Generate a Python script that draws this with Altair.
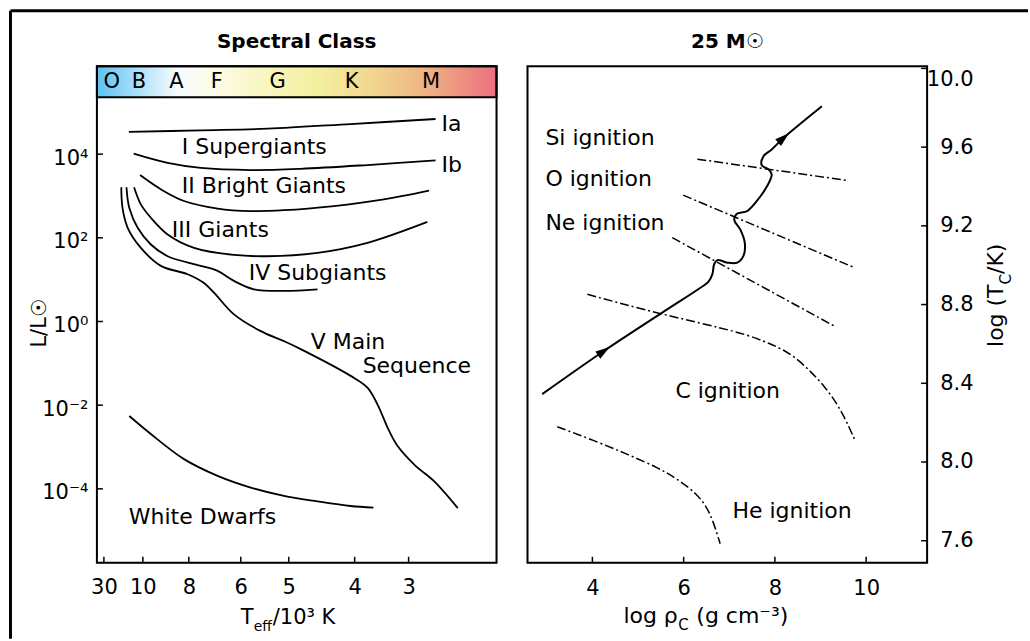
import altair as alt
import pandas as pd

FONT = "DejaVu Sans"

# ---------------- left panel: HR diagram ----------------
# horizontal position runs 0..100 across the panel (spectral sequence, hot -> cool)
teff_tick_pos = [1.75, 11.5, 23, 36, 48, 64.5, 78]
teff_tick_lab = ["30", "10", "8", "6", "5", "4", "3"]
lum_tick_pos = [-4, -2, 0, 2, 4]
lum_tick_lab = ["10⁻⁴", "10⁻²", "10⁰", "10²", "10⁴"]

spec_class = ["O", "B", "A", "F", "G", "K", "M"]
spec_pos = [3.7, 10.5, 19.9, 30, 45.25, 63.75, 83.6]

ia_x = [8, 26, 42.75, 63.5, 84.75]
ia_y = [4.53, 4.57, 4.61, 4.72, 4.84]
ib_x = [9.2, 17.7, 26, 38.5, 51, 67.7, 84.75]
ib_y = [4.01, 3.79, 3.67, 3.62, 3.65, 3.74, 3.85]
ii_x = [10.8, 16, 21.8, 30.2, 38.5, 46.8, 59.3, 71.8, 83.1]
ii_y = [3.50, 3.16, 2.88, 2.70, 2.64, 2.66, 2.76, 2.92, 3.13]
iii_x = [9.3, 11, 13.5, 17.7, 24.3, 34.3, 42.7, 55.2, 67.7, 82.7]
iii_y = [3.21, 2.80, 2.48, 2.08, 1.76, 1.59, 1.56, 1.64, 1.88, 2.38]
iv_x = [7.4, 8.1, 10.2, 13.5, 17.7, 25.2, 30.2, 34.3, 39.3, 46.8, 55.2]
iv_y = [3.21, 2.72, 2.24, 1.84, 1.56, 1.35, 1.21, 0.97, 0.77, 0.73, 0.77]
ms_x = [6.1, 6.4, 7.7, 11, 16, 22.7, 26.8, 29.3, 34.3, 41, 46.8, 51, 63.5,
        67.7, 70.2, 73.1, 75.2, 79.75, 84.3, 90.3]
ms_y = [3.21, 2.72, 2.24, 1.76, 1.33, 1.13, 0.92, 0.69, 0.17, -0.23, -0.47,
        -0.66, -1.30, -1.58, -1.98, -2.61, -2.97, -3.45, -3.81, -4.46]
wd_x = [8.1, 13.5, 21.8, 30.2, 38.5, 46.8, 55.2, 63.5, 69.2]
wd_y = [-2.26, -2.69, -3.29, -3.69, -3.97, -4.17, -4.30, -4.41, -4.45]

hr_label_text = ["Ia", "Ib", "I Supergiants", "II Bright Giants", "III Giants",
                 "IV Subgiants", "V Main", "Sequence", "White Dwarfs"]
hr_label_x = [86.25, 86.25, 21.25, 21.25, 18.75, 38, 53.5, 66.5, 8]
hr_label_y = [4.72, 3.74, 4.16, 3.24, 2.18, 1.15, -0.48, -1.06, -4.68]

# ---------------- right panel: 25 Msun core track ----------------
rho_ticks = [4, 6, 8, 10]
tc_ticks = [7.6, 8.0, 8.4, 8.8, 9.2, 9.6, 10.0]

track_x = [2.90, 4.25, 5.53, 6.36, 6.54, 6.63, 6.67, 6.74, 6.96, 7.175, 7.31,
           7.34, 7.24, 7.11, 7.16, 7.39, 7.57, 7.83, 7.93, 7.86, 7.71, 7.75,
           7.93, 8.19, 9.03]
track_y = [8.345, 8.564, 8.759, 8.884, 8.915, 8.955, 9.006, 9.026, 9.013,
           9.013, 9.047, 9.113, 9.182, 9.229, 9.26, 9.275, 9.317, 9.402,
           9.461, 9.487, 9.509, 9.554, 9.588, 9.647, 9.808]
arrow_x = [4.25, 8.19]
arrow_y = [8.564, 9.647]
arrow_angle = [56, 49]

si_x, si_y = [6.30, 9.605], [9.539, 9.430]
o_x, o_y = [5.99, 9.76], [9.356, 8.986]
ne_x, ne_y = [5.75, 9.34], [9.140, 8.686]
c_x = [3.89, 5.49, 7.31, 7.90, 8.41, 9.14, 9.50, 9.76]
c_y = [8.852, 8.751, 8.657, 8.60, 8.548, 8.378, 8.243, 8.108]
he_x = [3.23, 4.03, 4.76, 5.45, 5.85, 6.29, 6.58, 6.80]
he_y = [8.179, 8.11, 8.04, 7.97, 7.915, 7.84, 7.75, 7.585]

ign_text = ["Si ignition", "O ignition", "Ne ignition", "C ignition", "He ignition"]
ign_x = [2.97, 2.97, 2.97, 5.82, 7.07]
ign_y = [9.646, 9.44, 9.216, 8.361, 7.752]

W, H = 400, 497


def curves(named):
    rows = []
    for name, (xs, ys) in named.items():
        for i, (a, b) in enumerate(zip(xs, ys)):
            rows.append({"curve": name, "i": i, "x": a, "y": b})
    return pd.DataFrame(rows)


def label_expr(pos, lab):
    return "[" + ",".join(f"'{s}'" for s in lab) + "][indexof([" + \
        ",".join(str(p) for p in pos) + "], datum.value)]"


one = pd.DataFrame({"k": [0]})


def text_at(txt, x, y, size=22, align="left", baseline="alphabetic",
            angle=0, weight="normal"):
    return alt.Chart(pd.DataFrame({"t": [txt]})).mark_text(
        font=FONT, fontSize=size, align=align, baseline=baseline,
        angle=angle, fontWeight=weight, color="black"
    ).encode(text="t:N", x=alt.value(x), y=alt.value(y))


# ---- left panel scales / axes
LXS = alt.Scale(domain=[0, 100], nice=False, zero=False)
LYS = alt.Scale(domain=[-5.767, 6.101], nice=False, zero=False)
lx_axis = alt.Axis(values=teff_tick_pos, labelExpr=label_expr(teff_tick_pos, teff_tick_lab),
                   title=None, grid=False, domain=False, ticks=False, tickSize=0,
                   labelPadding=14, labelFlush=False, labelOverlap=False,
                   labelFont=FONT, labelFontSize=21, labelColor="black", labelAngle=0)
ly_axis = alt.Axis(values=lum_tick_pos, labelExpr=label_expr(lum_tick_pos, lum_tick_lab),
                   title=None, grid=False, domain=False, ticks=False, tickSize=0,
                   labelPadding=9, labelOffset=4, labelFlush=False, labelOverlap=False,
                   labelFont=FONT, labelFontSize=21, labelColor="black")
LX = alt.X("x:Q", scale=LXS, axis=lx_axis)
LY = alt.Y("y:Q", scale=LYS, axis=ly_axis)

spectrum = alt.Gradient(
    gradient="linear", x1=0, x2=1, y1=0, y2=0,
    stops=[alt.GradientStop(offset=o, color=c) for o, c in [
        (0.0, "#5cc2f2"), (0.1, "#aadff8"), (0.2, "#f6fbfe"), (0.3, "#fdfbe6"),
        (0.45, "#f7f4b8"), (0.55, "#f4f0a0"), (0.68, "#f1d890"),
        (0.82, "#efb483"), (1.0, "#eb6f7f")]])

hr_curves = curves({"Ia": (ia_x, ia_y), "Ib": (ib_x, ib_y), "II": (ii_x, ii_y),
                    "III": (iii_x, iii_y), "IV": (iv_x, iv_y), "V": (ms_x, ms_y),
                    "WD": (wd_x, wd_y)})

left_layers = [
    alt.Chart(one).mark_rect(fill=spectrum, stroke="black", strokeWidth=2).encode(
        x=alt.value(0), x2=alt.value(W), y=alt.value(0), y2=alt.value(31)),
    alt.Chart(one).mark_rect(fillOpacity=0, stroke="black", strokeWidth=2).encode(
        x=alt.value(0), x2=alt.value(W), y=alt.value(0), y2=alt.value(H)),
    alt.Chart(pd.DataFrame({"s": spec_class, "x": spec_pos})).mark_text(
        font=FONT, fontSize=21, align="center", baseline="middle", color="black"
    ).encode(x=LX, y=alt.value(16), text="s:N"),
    alt.Chart(hr_curves).mark_line(color="black", strokeWidth=1.8,
                                   interpolate="catmull-rom").encode(
        x=LX, y=LY, detail="curve:N", order="i:Q"),
    alt.Chart(pd.DataFrame({"y": lum_tick_pos})).mark_rule(color="black", strokeWidth=1.5).encode(
        y=LY, x=alt.value(0), x2=alt.value(6)),
    alt.Chart(pd.DataFrame({"x": teff_tick_pos})).mark_rule(color="black", strokeWidth=1.5).encode(
        x=LX, y=alt.value(H - 6), y2=alt.value(H)),
    alt.Chart(pd.DataFrame({"t": hr_label_text, "x": hr_label_x, "y": hr_label_y})).mark_text(
        font=FONT, fontSize=22, align="left", baseline="middle", color="black"
    ).encode(x=LX, y=LY, text="t:N"),
    # panel and axis titles
    text_at("Spectral Class", W / 2, -18, size=20, align="center", weight="bold"),
    text_at("L/L☉", -51, 257, size=21, align="center", angle=270),
    text_at("T", 144, 558, size=21),
    text_at("eff", 157, 565, size=14),
    text_at("/10³ K", 176, 558, size=21),
    # figure frame (top and left edges)
    alt.Chart(one).mark_rule(color="black", strokeWidth=3).encode(
        x=alt.value(-86.5), x2=alt.value(932), y=alt.value(-55.5)),
    alt.Chart(one).mark_rule(color="black", strokeWidth=3).encode(
        x=alt.value(-86.5), y=alt.value(-55.5), y2=alt.value(573)),
]
left = alt.layer(*left_layers).properties(width=W, height=H)

# ---- right panel scales / axes
RXS = alt.Scale(domain=[2.577, 11.336], nice=False, zero=False)
RYS = alt.Scale(domain=[7.488, 10.011], nice=False, zero=False)
rx_axis = alt.Axis(values=rho_ticks, format="d", title=None, grid=False, domain=False,
                   ticks=False, tickSize=0, labelPadding=15, labelFlush=False,
                   labelOverlap=False, labelFont=FONT, labelFontSize=21,
                   labelColor="black", labelAngle=0)
ry_axis = alt.Axis(values=tc_ticks, format=".1f", orient="right", title=None, grid=False,
                   domain=False, ticks=False, tickSize=0, labelPadding=46,
                   labelAlign="right", labelFlush=5, labelOverlap=False,
                   labelFont=FONT, labelFontSize=21, labelColor="black")
RX = alt.X("x:Q", scale=RXS, axis=rx_axis)
RY = alt.Y("y:Q", scale=RYS, axis=ry_axis)

ign_lines = curves({"Si": (si_x, si_y), "O": (o_x, o_y), "Ne": (ne_x, ne_y),
                    "C": (c_x, c_y), "He": (he_x, he_y)})
track = curves({"track": (track_x, track_y)})

right_layers = [
    alt.Chart(one).mark_rect(fillOpacity=0, stroke="black", strokeWidth=2).encode(
        x=alt.value(0), x2=alt.value(W), y=alt.value(0), y2=alt.value(H)),
    alt.Chart(ign_lines).mark_line(color="black", strokeWidth=1.5, strokeDash=[9, 3, 2, 3],
                                   interpolate="basis").encode(
        x=RX, y=RY, detail="curve:N", order="i:Q"),
    alt.Chart(track).mark_line(color="black", strokeWidth=2,
                               interpolate="catmull-rom").encode(
        x=RX, y=RY, order="i:Q"),
    alt.Chart(pd.DataFrame({"x": arrow_x, "y": arrow_y, "a": arrow_angle})).mark_point(
        shape="M0,-1L0.6,1L-0.6,1Z", filled=True, color="black", opacity=1, size=210
    ).encode(x=RX, y=RY, angle=alt.Angle("a:Q", scale=None)),
    alt.Chart(pd.DataFrame({"y": tc_ticks})).mark_rule(color="black", strokeWidth=1.5).encode(
        y=RY, x=alt.value(W - 6), x2=alt.value(W)),
    alt.Chart(pd.DataFrame({"x": rho_ticks})).mark_rule(color="black", strokeWidth=1.5).encode(
        x=RX, y=alt.value(H - 6), y2=alt.value(H)),
    alt.Chart(pd.DataFrame({"t": ign_text, "x": ign_x, "y": ign_y})).mark_text(
        font=FONT, fontSize=22, align="left", baseline="middle", color="black"
    ).encode(x=RX, y=RY, text="t:N"),
    text_at("25 M☉", W / 2, -18, size=20, align="center", weight="bold"),
    text_at("log ρ", 96, 557, size=22),
    text_at("C", 151, 564, size=15),
    text_at("(g cm⁻³)", 169, 557, size=22),
    text_at("log (T", 476, 281, size=22, angle=270),
    text_at("C", 484, 218.4, size=15, angle=270),
    text_at("/K)", 476, 207.9, size=22, angle=270),
]
right = alt.layer(*right_layers).properties(width=W, height=H)

chart = alt.hconcat(left, right, spacing=31, bounds="flush").properties(
    padding={"left": 8, "top": 8, "right": 0, "bottom": 0}
).configure_view(stroke=None).configure(background="white")

chart.save("out.html", embed_options={"renderer": "svg", "actions": False})
